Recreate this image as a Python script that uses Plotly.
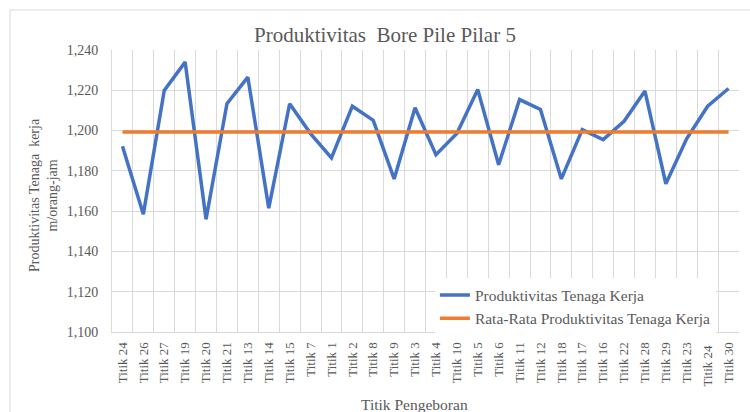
import plotly.graph_objects as go

categories = ["Titik 24", "Titik 26", "Titik 27", "Titik 19", "Titik 20", "Titik 21", "Titik 13",
              "Titik 14", "Titik 15", "Titik 7", "Titik 1", "Titik 2", "Titik 8", "Titik 9",
              "Titik 3", "Titik 4", "Titik 10", "Titik 5", "Titik 6", "Titik 11", "Titik 12",
              "Titik 18", "Titik 17", "Titik 16", "Titik 22", "Titik 28", "Titik 29", "Titik 23",
              "Titik 24 ", "Titik 30"]
productivity = [1192.2, 1158.5, 1219.9, 1234.0, 1156.0, 1213.3, 1226.5, 1161.5, 1213.3, 1198.5,
                1186.4, 1212.1, 1205.1, 1176.0, 1211.3, 1188.0, 1198.5, 1220.4, 1183.0, 1215.4,
                1210.5, 1176.0, 1200.5, 1195.5, 1204.6, 1219.6, 1173.6, 1196.0, 1212.1, 1220.9]
average = [1199.3] * len(categories)
y_ticks = [1100, 1120, 1140, 1160, 1180, 1200, 1220, 1240]
y_tick_labels = ["1,100", "1,120", "1,140", "1,160", "1,180", "1,200", "1,220", "1,240"]

FONT = "Liberation Serif"
GRAY = "#595959"
L, R, T, B = 112, 11, 50, 80
PW, PH = 750 - L - R, 412 - T - B


def px_x(x):
    return (x - L) / PW


def px_y(y):
    return (412 - B - y) / PH


fig = go.Figure()
fig.add_trace(go.Scatter(x=categories, y=productivity, mode="lines",
                         name="Produktivitas Tenaga Kerja",
                         line=dict(color="#4472C4", width=3.5)))
fig.add_trace(go.Scatter(x=categories, y=average, mode="lines",
                         name="Rata-Rata Produktivitas Tenaga Kerja",
                         line=dict(color="#ED7D31", width=3.5)))

fig.update_layout(
    width=750, height=412,
    margin=dict(l=L, r=R, t=T, b=B),
    paper_bgcolor="white", plot_bgcolor="white",
    font=dict(family=FONT, color=GRAY, size=14),
    legend=dict(x=0.515, y=0.19, xanchor="left", yanchor="top", bgcolor="white",
                font=dict(size=15.5, color=GRAY, family=FONT), tracegroupgap=0),
    showlegend=True,
)
fig.update_xaxes(
    type="category", range=[-0.5, len(categories) - 0.5],
    tickson="boundaries", showgrid=True, gridcolor="#D9D9D9", gridwidth=1,
    showline=True, linecolor="#D9D9D9", mirror=False,
    ticks="", tickangle=-90, tickfont=dict(size=13, family=FONT, color=GRAY),
    ticklabelstandoff=4, automargin=False,
)
fig.update_yaxes(
    range=[1100, 1240], tickvals=y_ticks, ticktext=y_tick_labels,
    showgrid=True, gridcolor="#D9D9D9", gridwidth=1,
    showline=True, linecolor="#D9D9D9", zeroline=False,
    ticks="", tickfont=dict(size=14, family=FONT, color=GRAY),
    ticklabelstandoff=10, automargin=False,
)
# chart title and axis titles
fig.add_annotation(text="Produktivitas  Bore Pile Pilar 5", xref="paper", yref="paper",
                   x=px_x(384.5), y=px_y(35), xanchor="center", yanchor="middle",
                   showarrow=False, font=dict(size=21, color=GRAY, family=FONT))
fig.add_annotation(text="Titik Pengeboran", xref="paper", yref="paper",
                   x=px_x(414), y=px_y(404), xanchor="center", yanchor="middle",
                   showarrow=False, font=dict(size=15.5, color=GRAY, family=FONT))
fig.add_annotation(text="Produktivitas Tenaga  kerja<br>m/orang-jam", xref="paper", yref="paper",
                   x=px_x(43), y=px_y(195), xanchor="center", yanchor="middle", textangle=-90,
                   showarrow=False, font=dict(size=14, color=GRAY, family=FONT))
# outer chart border
fig.add_shape(type="rect", xref="paper", yref="paper",
              x0=px_x(10), x1=px_x(760), y0=px_y(420), y1=px_y(10),
              line=dict(color="#D9D9D9", width=1), fillcolor="rgba(0,0,0,0)", layer="below")

fig.write_html("out.html", config={"displayModeBar": False},
               post_script="document.body.style.margin='0';document.body.style.padding='0';")
